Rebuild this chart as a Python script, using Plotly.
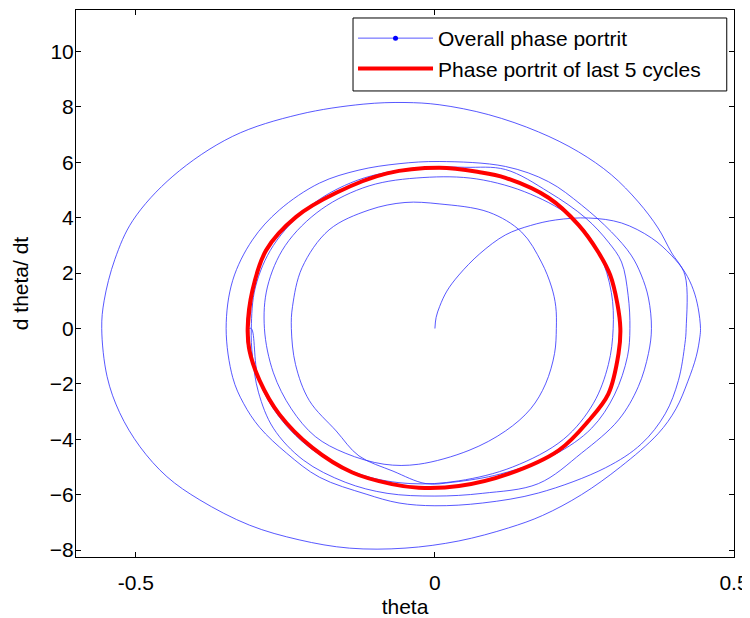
import plotly.graph_objects as go

# ---- overall phase portrait, clockwise ----
seg1_theta = [0.0, 0.002, 0.008, 0.02, 0.04, 0.075, 0.118, 0.16, 0.202, 0.257, 0.312, 0.362, 0.395, 0.418, 0.432, 0.44, 0.444]
seg1_dtheta = [0.0, 0.4, 0.8, 1.35, 1.93, 2.7, 3.38, 3.72, 3.92, 3.99, 3.81, 3.27, 2.65, 2.03, 1.4, 0.75, 0.0]

seg2_theta = [0.443, 0.437, 0.423, 0.403, 0.373, 0.31, 0.245, 0.18, 0.123, 0.04, -0.05, -0.143, -0.227, -0.31,
              -0.393, -0.448, -0.493, -0.527, -0.548, -0.557, -0.553, -0.535, -0.505, -0.438, -0.338, -0.227,
              -0.12, -0.05, 0.007, 0.09, 0.173, 0.24, 0.295, 0.34, 0.373, 0.395, 0.418, 0.42]
seg2_dtheta = [-0.3, -1.0, -1.9, -2.9, -3.8, -5.0, -6.0, -6.75, -7.2, -7.67, -7.93, -7.93, -7.63, -7.1,
               -6.19, -5.35, -4.27, -3.04, -1.74, 0.0, 1.0, 2.5, 3.9, 5.5, 6.94, 7.73,
               8.1, 8.16, 8.08, 7.72, 7.1, 6.38, 5.55, 4.57, 3.63, 2.76, 1.93, 0.0]

seg3_theta = [0.418, 0.407, 0.385, 0.345, 0.285, 0.173, 0.08, 0.0, -0.06, -0.115, -0.193, -0.248, -0.293, -0.32,
              -0.338, -0.349, -0.338, -0.305, -0.26, -0.193, -0.127, -0.06, 0.007, 0.118, 0.19, 0.245, 0.295,
              0.328, 0.345, 0.357, 0.362]
seg3_dtheta = [-0.54, -1.88, -3.08, -4.17, -5.03, -5.94, -6.3, -6.4, -6.3, -5.98, -5.37, -4.5, -3.57, -2.7,
               -1.77, 0.0, 1.74, 3.2, 4.28, 5.25, 5.72, 5.95, 6.03, 5.85, 5.3, 4.46, 3.49,
               2.65, 1.93, 1.1, 0.0]

seg4_theta = [0.357, 0.34, 0.307, 0.245, 0.173, 0.08, 0.0, -0.08, -0.15, -0.22, -0.27, -0.295, -0.305, -0.307,
              -0.30, -0.27, -0.21, -0.13, -0.03, 0.05, 0.118, 0.19, 0.252, 0.29, 0.312, 0.323, 0.326]
seg4_dtheta = [-0.9, -2.1, -3.3, -4.5, -5.6, -5.95, -6.05, -5.95, -5.55, -4.75, -3.6, -2.3, -1.0, 0.0,
               1.5, 3.0, 4.4, 5.35, 5.8, 5.82, 5.74, 4.93, 3.99, 3.12, 2.4, 1.2, 0.0]

seg5_theta = [0.322, 0.30, 0.262, 0.20, 0.11, 0.03, -0.015, -0.07, -0.127, -0.165, -0.21, -0.233, -0.24,
              -0.238, -0.222, -0.177, -0.11, -0.05, 0.007, 0.09, 0.145, 0.178, 0.195, 0.202, 0.203,
              0.2, 0.185, 0.16, 0.118, 0.057, -0.027, -0.085, -0.15]
seg5_dtheta = [-1.0, -2.4, -3.6, -4.55, -5.25, -5.55, -5.6, -5.15, -4.6, -3.7, -2.6, -1.3, 0.0,
               0.8, 2.2, 3.56, 4.28, 4.55, 4.5, 4.2, 3.48, 2.4, 1.5, 0.8, 0.0,
               -0.9, -2.0, -2.9, -3.7, -4.4, -4.9, -4.9, -4.5]

seg6_theta = [-0.2, -0.24, -0.27, -0.285, -0.28, -0.25, -0.19, -0.11, -0.02, 0.07, 0.16, 0.235, 0.275, 0.295,
              0.298, 0.29, 0.265, 0.215, 0.13, 0.04, -0.04, -0.12, -0.2, -0.26, -0.295, -0.307]
seg6_dtheta = [-3.9, -2.9, -1.6, 0.0, 1.5, 3.0, 4.3, 5.15, 5.45, 5.4, 4.85, 3.9, 2.7, 1.3,
               0.0, -1.3, -2.7, -4.0, -5.0, -5.5, -5.6, -5.3, -4.45, -3.2, -1.8, 0.0]

# ---- limit cycle (last cycles), one revolution ----
cycle_theta = [-0.313, -0.305, -0.282, -0.232, -0.165, -0.08, 0.007, 0.073, 0.118, 0.19, 0.24, 0.273, 0.293,
               0.305, 0.31, 0.307, 0.29, 0.257, 0.207, 0.123, 0.04, -0.027, -0.072, -0.138, -0.205, -0.26,
               -0.293, -0.31, -0.313]
cycle_dtheta = [0.0, 1.38, 2.83, 4.03, 4.9, 5.6, 5.8, 5.65, 5.44, 4.72, 3.74, 2.76, 1.93,
                0.9, 0.0, -0.9, -2.36, -3.33, -4.4, -5.25, -5.69, -5.75, -5.62, -5.2, -4.3, -3.1,
                -1.88, -0.8, 0.0]
n_last_cycles = 5

x_ticks = [-0.5, 0, 0.5]
x_tick_text = ["-0.5", "0", "0.5"]
y_ticks = [-8, -6, -4, -2, 0, 2, 4, 6, 8, 10]

red_theta = cycle_theta * n_last_cycles
red_dtheta = cycle_dtheta * n_last_cycles
overall_theta = seg1_theta + seg2_theta + seg3_theta + seg4_theta + seg5_theta + seg6_theta + red_theta
overall_dtheta = seg1_dtheta + seg2_dtheta + seg3_dtheta + seg4_dtheta + seg5_dtheta + seg6_dtheta + red_dtheta

FONT = "Liberation Sans, Arial, sans-serif"
BLUE = "rgb(45,45,255)"
fig = go.Figure()
fig.add_trace(go.Scatter(x=overall_theta, y=overall_dtheta, mode="lines",
                         line=dict(color=BLUE, width=0.8, shape="spline", smoothing=1.0, simplify=False),
                         showlegend=False, hoverinfo="skip"))
fig.add_trace(go.Scatter(x=[None], y=[None], mode="lines+markers", name="Overall phase portrit",
                         line=dict(color=BLUE, width=0.8),
                         marker=dict(color="blue", size=5)))
fig.add_trace(go.Scatter(x=red_theta, y=red_dtheta, mode="lines", name="Phase portrit of last 5 cycles",
                         line=dict(color="red", width=4, shape="spline", smoothing=1.0, simplify=False)))

axis_common = dict(showline=True, linecolor="black", linewidth=1, mirror="ticks", ticks="inside",
                   ticklen=5, tickcolor="black", showgrid=False, zeroline=False, automargin=False,
                   ticklabeloverflow="allow",
                   tickfont=dict(family=FONT, size=21, color="black"))
fig.update_xaxes(range=[-0.6, 0.5], tickvals=x_ticks, ticktext=x_tick_text, ticklabelstandoff=7,
                 title=dict(text="theta", font=dict(family=FONT, size=21, color="black"), standoff=12),
                 **axis_common)
fig.update_yaxes(range=[-8.25, 11.5], tickvals=y_ticks, ticklabelstandoff=-3,
                 title=dict(text="d theta/ dt", font=dict(family=FONT, size=21, color="black"), standoff=15),
                 **axis_common)

# legend frame (paper coordinates of the reference legend box)
leg_x0, leg_x1, leg_y0, leg_y1 = 0.421, 0.989, 0.852, 0.9854
fig.add_shape(type="rect", xref="paper", yref="paper", x0=leg_x0, x1=leg_x1, y0=leg_y0, y1=leg_y1,
              fillcolor="white", line=dict(color="black", width=1), layer="above")
fig.update_layout(
    width=742, height=610,
    margin=dict(l=68, r=16, t=2, b=61),
    paper_bgcolor="white", plot_bgcolor="white",
    font=dict(family=FONT, size=21, color="black"),
    legend=dict(x=leg_x0, y=leg_y1, xanchor="left", yanchor="top", bgcolor="rgba(0,0,0,0)",
                borderwidth=0, itemwidth=75,
                font=dict(family=FONT, size=21, color="black"), tracegroupgap=0),
)
fig.write_html("out.html")
